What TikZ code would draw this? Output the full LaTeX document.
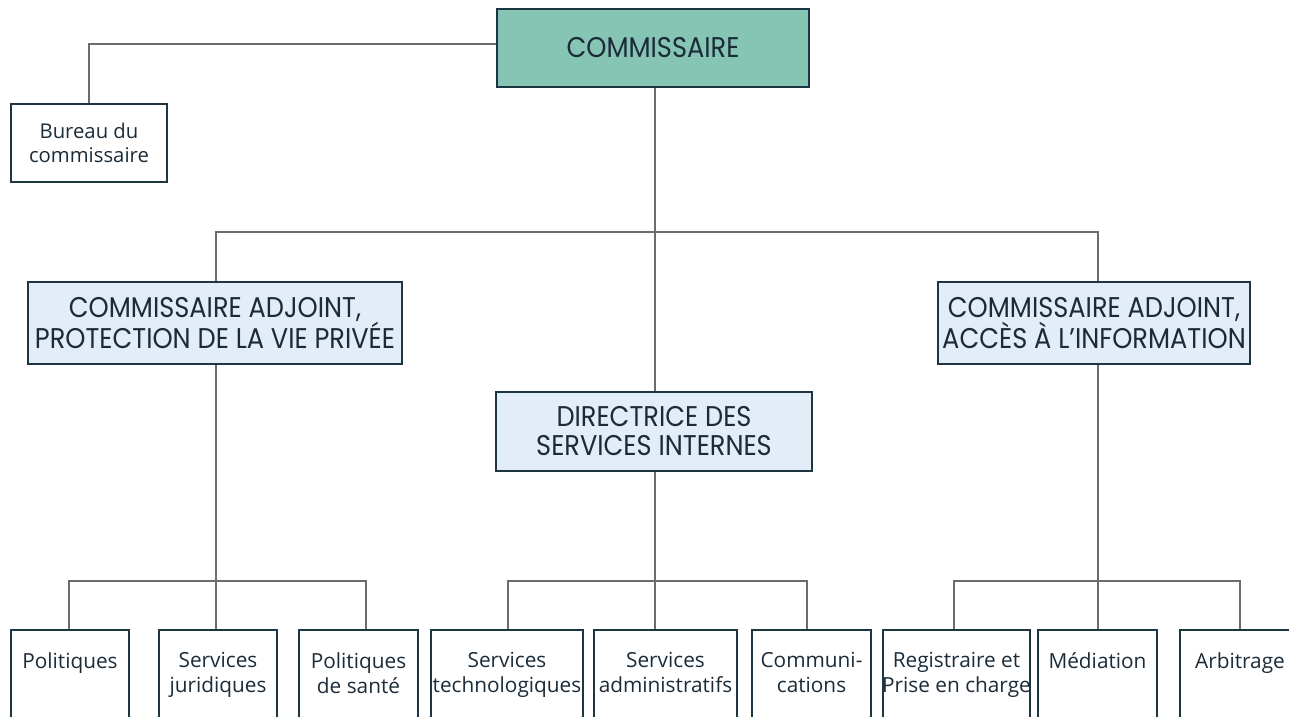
\documentclass[tikz,border=0pt]{standalone}
\usepackage{fontspec}
\setmainfont{Open Sans}
\newfontfamily\headfont[FakeStretch=0.9]{Poppins}

\definecolor{ink}{HTML}{1B2B38}
\definecolor{boxline}{HTML}{1E3542}
\definecolor{wire}{HTML}{6B6B6B}
\definecolor{topfill}{HTML}{86C4B4}
\definecolor{midfill}{HTML}{E2EDF8}

\tikzset{
  box/.style={draw=boxline, line width=1.3pt, inner sep=0pt, align=center, text=ink},
  head/.style={box, font=\headfont\fontsize{28.5}{29}\selectfont},
  unit/.style={box, minimum height=100pt},
  lbl/.style={inner sep=0pt, align=center, text=ink, font=\fontsize{20.8}{25}\selectfont, anchor=north},
  wire/.style={draw=wire, line width=1.3pt},
}

\begin{document}
\begin{tikzpicture}[x=1pt, y=-1pt]
\useasboundingbox (0,0) rectangle (1289,716);
\clip (0,0) rectangle (1289,716);

% top of the chart
\node[head, fill=topfill, minimum width=312pt, minimum height=78pt] (comm) at (653,48) {COMMISSAIRE};
\node[box, font=\fontsize{20.3}{24}\selectfont, minimum width=156pt, minimum height=78pt] (bureau) at (89,143) {Bureau du\\commissaire};

% second level
\node[head, fill=midfill, minimum width=374pt, minimum height=82pt] (adjL) at (215,323) {COMMISSAIRE ADJOINT,\\PROTECTION DE LA VIE PRIVÉE};
\node[head, fill=midfill, minimum width=312pt, minimum height=82pt] (adjR) at (1094,323) {COMMISSAIRE ADJOINT,\\ACCÈS À L’INFORMATION};
\node[head, fill=midfill, minimum width=316pt, minimum height=79pt] (dir) at (654,431.5) {DIRECTRICE DES\\SERVICES INTERNES};

% bottom units (they run past the lower edge)
\node[unit, minimum width=118pt] (b1) at (70,680) {};
\node[unit, minimum width=118pt] (b2) at (218,680) {};
\node[unit, minimum width=119pt] (b3) at (358.5,680) {};
\node[unit, minimum width=152pt] (b4) at (507,680) {};
\node[unit, minimum width=143pt] (b5) at (665.5,680) {};
\node[unit, minimum width=119pt] (b6) at (811.5,680) {};
\node[unit, minimum width=147pt] (b7) at (956.5,680) {};
\node[unit, minimum width=119pt] (b8) at (1097.5,680) {};
\node[unit, minimum width=120pt] (b9) at (1240,680) {};

\node[lbl] (t1) at ([yshift=-23pt]b1.north) {Politiques};
\node[lbl] (t2) at ([yshift=-23pt]b2.north) {Services\\juridiques};
\node[lbl] (t3) at ([yshift=-23pt]b3.north) {Politiques\\de santé};
\node[lbl] (t4) at ([yshift=-23pt]b4.north) {Services\\technologiques};
\node[lbl] (t5) at ([yshift=-23pt]b5.north) {Services\\administratifs};
\node[lbl] (t6) at ([yshift=-23pt]b6.north) {Communi-\\cations};
\node[lbl] (t7) at ([yshift=-23pt]b7.north) {Registraire et\\Prise en charge};
\node[lbl] (t8) at ([yshift=-23pt]b8.north) {Médiation};
\node[lbl] (t9) at ([yshift=-23pt]b9.north) {Arbitrage};

% bus junctions
\coordinate (busTop) at (655,232);
\coordinate (busL) at (216,581);
\coordinate (busM) at (655,581);
\coordinate (busR) at (1098,581);

% connectors
\draw[wire] (comm.west |- 0,44) -| (bureau.north);
\draw[wire] (comm.south -| busTop) -- (dir.north -| busTop);
\draw[wire] (adjL.north -| busL) |- (busTop) -| (adjR.north -| busR);

\draw[wire] (adjL.south -| busL) -- (busL);
\draw[wire] (b1.north -| 69,0) |- (busL) -| (b3.north -| 366,0);
\draw[wire] (busL) -- (b2.north -| busL);

\draw[wire] (dir.south -| busM) -- (busM);
\draw[wire] (b4.north -| 508,0) |- (busM) -| (b6.north -| 807,0);
\draw[wire] (busM) -- (b5.north -| busM);

\draw[wire] (adjR.south -| busR) -- (busR);
\draw[wire] (b7.north -| 954,0) |- (busR) -| (b9.north -| 1240,0);
\draw[wire] (busR) -- (b8.north -| busR);
\end{tikzpicture}
\end{document}
